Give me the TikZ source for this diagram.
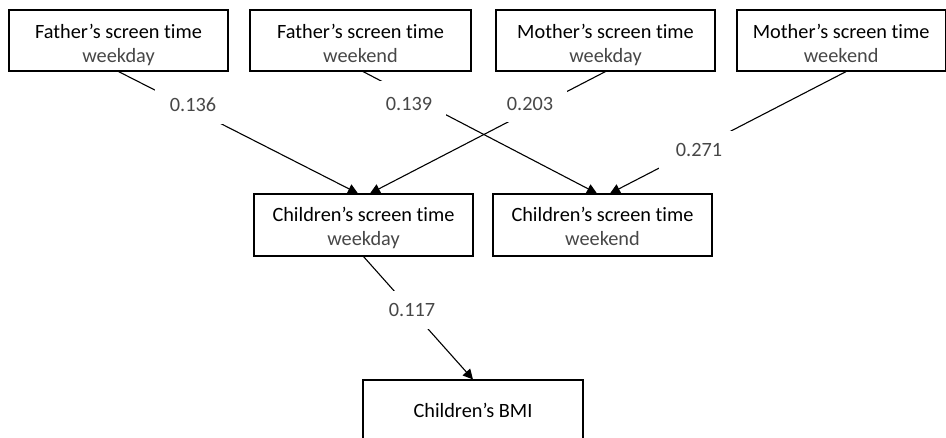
\documentclass[tikz,border=0pt]{standalone}
\usepackage{fontspec}
\setmainfont{Carlito}[Ligatures={NoCommon}]
\usetikzlibrary{arrows.meta}
\newcommand\lightline[1]{{\color{black!72}#1}\rule[-5pt]{0pt}{5pt}}
\begin{document}
\begin{tikzpicture}[x=1pt,y=-1pt,
  box/.style={draw, line width=1.1pt, minimum width=219pt, minimum height=61pt,
    inner sep=0pt, align=center, font=\fontsize{20.3}{24}\selectfont},
  lbl/.style={fill=white, inner sep=0pt, text=black!72,
    font=\fontsize{20.3}{24}\selectfont},
  conn/.style={line width=1.1pt, -{Triangle[length=10pt,width=10pt]}}]
\clip (0,0) rectangle (946,438);
% top row
\node[box] (f1) at (118.5,40.5) {\rule{0pt}{25.5pt}Father’s screen time\\\lightline{weekday}};
\node[box, minimum width=221pt] (f2) at (360.5,40.5) {\rule{0pt}{25.5pt}Father’s screen time\\\lightline{weekend}};
\node[box] (m1) at (605.5,40.5) {\rule{0pt}{25.5pt}Mother’s screen time\\\lightline{weekday}};
\node[box, minimum width=208.3pt] (m2) at (841.15,40.5) {\rule{0pt}{25.5pt}Mother’s screen time\\\lightline{weekend}};
% middle row
\node[box, minimum height=62pt] (c1) at (363.5,225) {\rule{0pt}{22.5pt}Children’s screen time\\\lightline{weekday}};
\node[box, minimum height=62pt] (c2) at (602.5,225) {\rule{0pt}{22.5pt}Children’s screen time\\\lightline{weekend}};
% bottom
\node[box, minimum width=220pt, minimum height=60pt] (bmi) at (473,410) {Children’s BMI};
% connectors
\draw[conn] (f1.south) -- ([xshift=-5.5pt]c1.north);
\draw[conn] (m1.south) -- ([xshift=6.5pt]c1.north);
\draw[conn] ([xshift=2.5pt]f2.south) -- ([xshift=-5.5pt]c2.north);
\draw[conn] ([xshift=5pt]m2.south) -- ([xshift=7.5pt]c2.north);
\draw[conn] (c1.south) -- (bmi.north);
% coefficient labels
\node[lbl, minimum width=76pt, minimum height=39pt] (w1) at (193,105) {0.136};
\node[lbl, minimum width=74pt, minimum height=46pt] (w2) at (409,104) {0.139};
\node[lbl, minimum width=74pt, minimum height=37pt] (w3) at (530,104) {0.203};
\node[lbl, minimum width=80pt, minimum height=38pt] (w4) at (699,150) {0.271};
\node[lbl, minimum width=46pt, minimum height=38pt] (w5) at (412,310) {0.117};
\end{tikzpicture}
\end{document}
